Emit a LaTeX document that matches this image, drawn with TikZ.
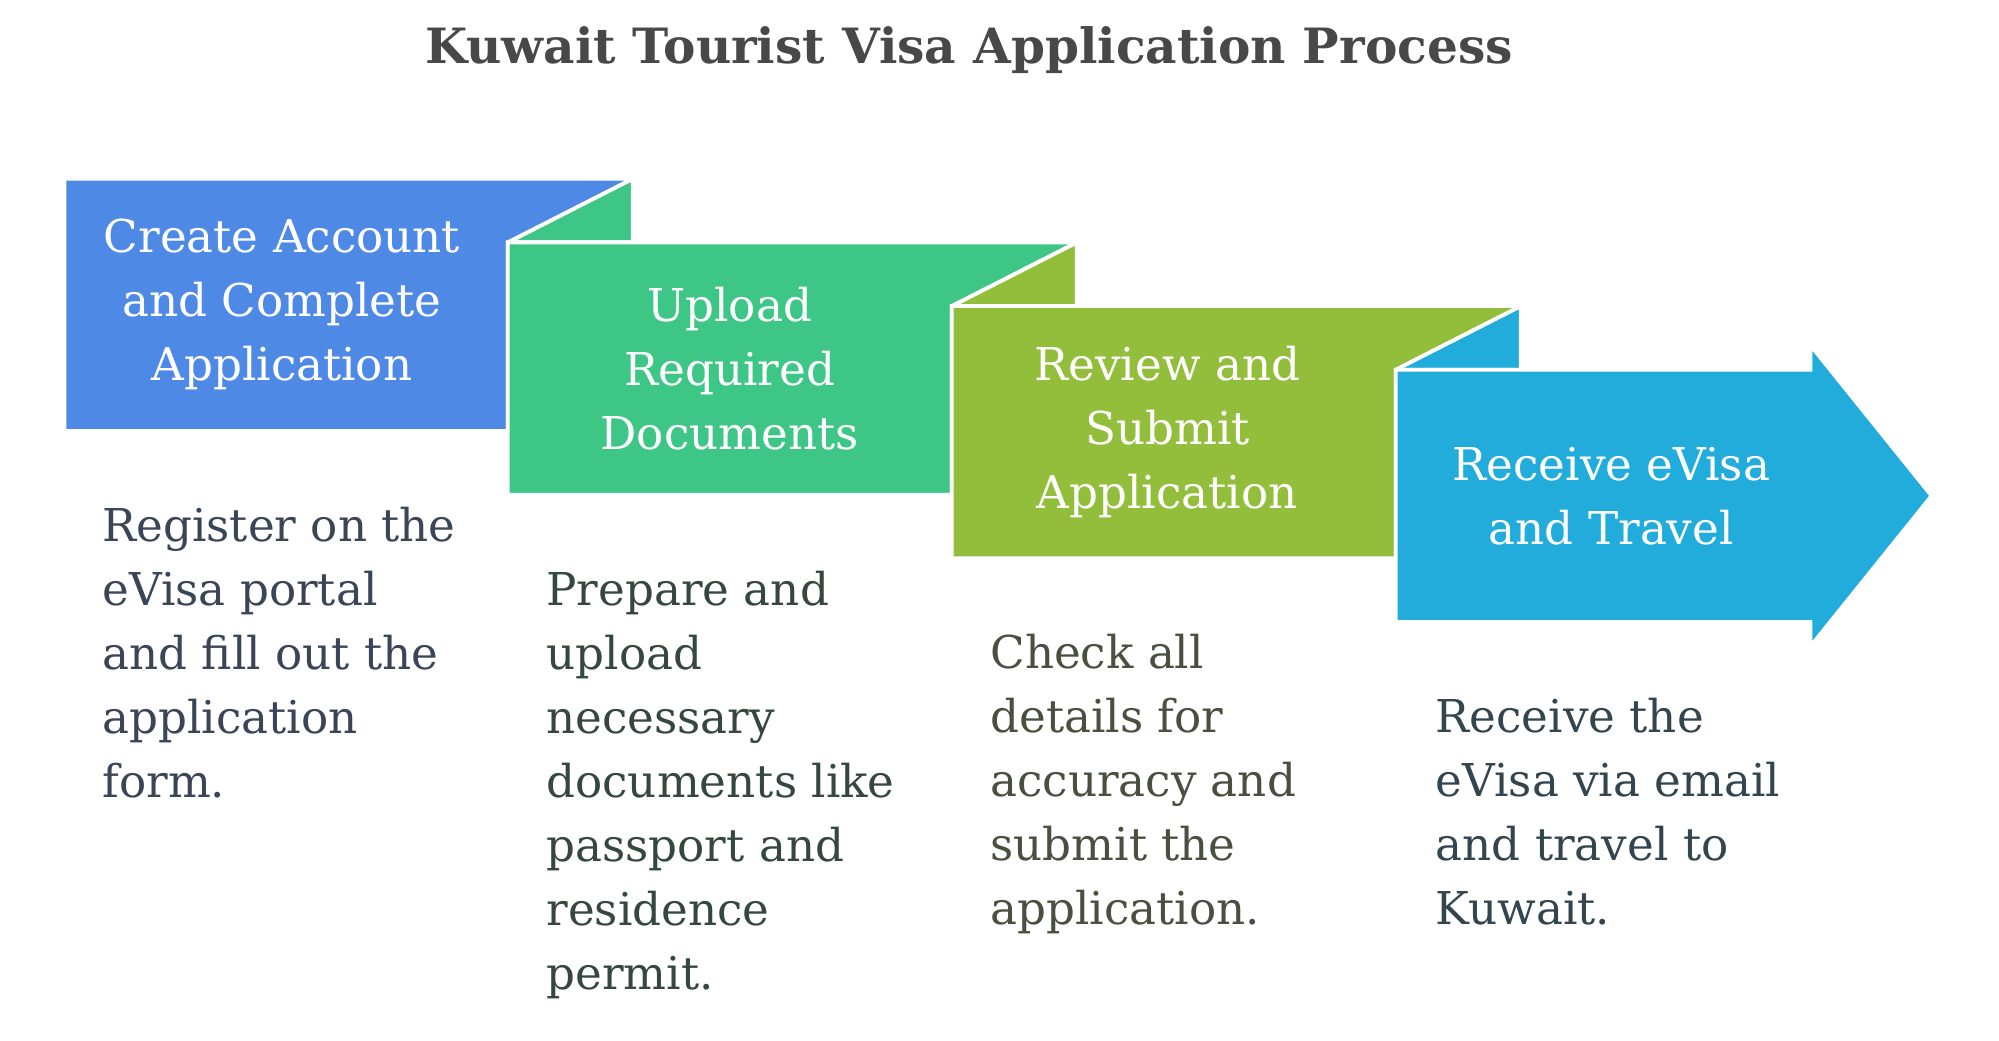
\documentclass[tikz,border=0pt]{standalone}
\usepackage{fontspec}
\setmainfont{DejaVu Serif}
\usepackage{tikz}

\definecolor{stepblue}{HTML}{4E89E6}
\definecolor{stepgreen}{HTML}{3EC686}
\definecolor{stepolive}{HTML}{93BE3B}
\definecolor{stepcyan}{HTML}{21ACDB}
\definecolor{titlegray}{HTML}{484848}
\definecolor{descblue}{HTML}{3A4558}
\definecolor{descgreen}{HTML}{34483E}
\definecolor{descolive}{HTML}{4A5040}
\definecolor{desccyan}{HTML}{33454E}

\begin{document}
\begin{tikzpicture}[x=0.64pt,y=-0.64pt]
\tikzstyle{fold}=[draw=white,line width=1.9pt,line join=miter]
\tikzstyle{steptext}=[text=white,align=center,inner sep=0pt,font=\fontsize{22.6}{32}\selectfont]
\tikzstyle{desc}=[anchor=north west,align=left,inner sep=0pt,font=\fontsize{22.6}{32}\selectfont]

\useasboundingbox (0,0) rectangle (1560.6,812);

\begin{scope}[xscale=0.996]
\node (title) at (759.5,39) [text=titlegray,font=\bfseries\fontsize{24.3}{30}\selectfont] {Kuwait Tourist Visa Application Process};

% flaps under the folds
\fill [fold,fill=stepgreen] (398,189.2) -- (496,139.5) -- (496,189.2) -- cycle;
\fill [fold,fill=stepolive] (746,238.9) -- (844,189.2) -- (844,238.9) -- cycle;
\fill [fold,fill=stepcyan] (1094,288.6) -- (1192,238.9) -- (1192,288.6) -- cycle;

% step bodies
\filldraw [fold,fill=stepblue] (50.5,139.5) -- (496,139.5) -- (398,189.2) -- (398,336.5) -- (50.5,336.5) -- cycle;
\filldraw [fold,fill=stepgreen] (398,189.2) -- (844,189.2) -- (746,238.9) -- (746,386.2) -- (398,386.2) -- cycle;
\filldraw [fold,fill=stepolive] (746,238.9) -- (1192,238.9) -- (1094,288.6) -- (1094,435.9) -- (746,435.9) -- cycle;
\filldraw [fold,fill=stepcyan] (1094,288.6) -- (1419,288.6) -- (1419,269.5) -- (1514,387.1) -- (1419,504.7) -- (1419,485.6) -- (1094,485.6) -- cycle;

\node (create) at (221,238) [steptext] {Create Account\\and Complete\\Application};
\node (upload) at (572,287.7) [steptext] {Upload\\Required\\Documents};
\node (review) at (915,337.4) [steptext] {Review and\\Submit\\Application};
\node (receive) at (1263,387.1) [steptext] {Receive eVisa\\and Travel};

\node (register) at (80,395.5) [desc,text=descblue] {Register on the\\eVisa portal\\and fill out the\\application\\form.};
\node (prepare) at (428,445.2) [desc,text=descgreen] {Prepare and\\upload\\necessary\\documents like\\passport and\\residence\\permit.};
\node (check) at (776,494.9) [desc,text=descolive] {Check all\\details for\\accuracy and\\submit the\\application.};
\node (travel) at (1125,544.6) [desc,text=desccyan] {Receive the\\eVisa via email\\and travel to\\Kuwait.};
\end{scope}
\end{tikzpicture}
\end{document}
